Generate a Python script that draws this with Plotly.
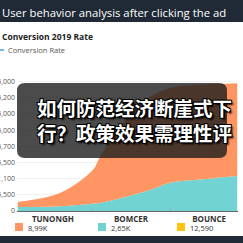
import plotly.graph_objects as go

# ---- data ----
categories = ["TUNONGH", "BOMCER", "BOUNCE"]
x_pos = [-0.45, 0.09, 0.51, 0.60, 0.79, 0.99, 1.24, 1.50, 1.88, 2.36]
teal_vals = [0.25, 0.30, 0.45, 0.50, 0.70, 0.95, 1.30, 1.75, 1.95, 2.17]
orange_vals = [0.31, 0.81, 2.08, 2.83, 3.99, 4.98, 5.74, 5.85, 5.85, 5.73]
y_tickvals = [0, 1, 2, 3, 4, 5, 6, 7, 8]
y_ticktext = ["0", "5,500", "1,100", "5,500", "5,700", "5,000", "5,000", "5,200", "5,000"]
legend_labels = ["8,99K", "2,65K", "12,590"]
legend_colors = ["#FF9562", "#72D4D2", "#FFC20E"]

title = "User behavior analysis after clicking the ad"
subtitle = "Conversion 2019 Rate"
sub_legend = "Conversion Rate"
overlay_lines = ["如何防范经济断崖式下", "行？政策效果需理性评"]

W, H = 243, 243
L, R, T, B = 17, 5, 80, 32
PW, PH = W - L - R, H - T - B


def px(x):
    return (x - L) / PW


def py(y):
    return (H - B - y) / PH


fig = go.Figure()
fig.add_trace(go.Scatter(x=x_pos, y=teal_vals, stackgroup="a", mode="none",
                         fillcolor=legend_colors[1], line_shape="spline",
                         showlegend=False, hoverinfo="skip"))
fig.add_trace(go.Scatter(x=x_pos, y=orange_vals, stackgroup="a", mode="none",
                         fillcolor=legend_colors[0], line_shape="spline",
                         showlegend=False, hoverinfo="skip"))

shapes = []
annotations = []
# header band
shapes.append(dict(type="rect", xref="paper", yref="paper", x0=px(0), x1=px(W), y0=py(0), y1=py(22),
                   fillcolor="#1F2A36", line_width=0, layer="above"))
# bottom band
shapes.append(dict(type="rect", xref="paper", yref="paper", x0=px(0), x1=px(W), y0=py(236), y1=py(243),
                   fillcolor="#1F2A36", line_width=0, layer="above"))
annotations.append(dict(text=title, xref="paper", yref="paper", x=px(0), y=py(12), xanchor="left",
                        yanchor="middle", showarrow=False,
                        font=dict(family="Open Sans", size=11.3, color="white")))
annotations.append(dict(text="<b>" + subtitle + "</b>", xref="paper", yref="paper", x=px(0), y=py(36),
                        xanchor="left", yanchor="middle", showarrow=False,
                        font=dict(family="Open Sans", size=8.5, color="#222")))
shapes.append(dict(type="line", xref="paper", yref="paper", x0=px(0), x1=px(4), y0=py(50), y1=py(50),
                   line=dict(color="#4AA3DF", width=1.5)))
annotations.append(dict(text=sub_legend, xref="paper", yref="paper", x=px(6), y=py(50),
                        xanchor="left", yanchor="middle", showarrow=False,
                        font=dict(family="Open Sans", size=7.5, color="#555")))

# legend
leg_x = [15, 98, 177]
for lx, lab, col in zip(leg_x, legend_labels, legend_colors):
    shapes.append(dict(type="rect", xref="paper", yref="paper", x0=px(lx), x1=px(lx + 8),
                       y0=py(231), y1=py(223), fillcolor=col, line_width=0))
    annotations.append(dict(text=lab, xref="paper", yref="paper", x=px(lx + 11), y=py(227.5),
                            xanchor="left", yanchor="middle", showarrow=False,
                            font=dict(family="Open Sans", size=7.5, color="#333")))

# overlay rounded box
x0, x1, y0, y1, r = 17, 227, 83, 158, 8
path = (f"M {px(x0 + r)},{py(y0)} L {px(x1 - r)},{py(y0)} Q {px(x1)},{py(y0)} {px(x1)},{py(y0 + r)} "
        f"L {px(x1)},{py(y1 - r)} Q {px(x1)},{py(y1)} {px(x1 - r)},{py(y1)} "
        f"L {px(x0 + r)},{py(y1)} Q {px(x0)},{py(y1)} {px(x0)},{py(y1 - r)} "
        f"L {px(x0)},{py(y0 + r)} Q {px(x0)},{py(y0)} {px(x0 + r)},{py(y0)} Z")
shapes.append(dict(type="path", xref="paper", yref="paper", path=path,
                   fillcolor="rgba(30,30,30,0.8)", line_width=0, layer="above"))
annotations.append(dict(text="<br>".join("<b>" + s + "</b>" for s in overlay_lines),
                        xref="paper", yref="paper", x=px(134), y=py(119.5),
                        xanchor="center", yanchor="middle", showarrow=False, align="left",
                        font=dict(family="Noto Sans CJK SC", size=19.5, color="white",
                                  shadow="-1px -1px 0 #000, 1px -1px 0 #000, -1px 1px 0 #000, 1px 1px 0 #000, 2px 2px 2px #000")))

fig.update_layout(
    width=W, height=H, margin=dict(l=L, r=R, t=T, b=B),
    paper_bgcolor="white", plot_bgcolor="white",
    shapes=shapes, annotations=annotations, showlegend=False,
    xaxis=dict(range=[-0.46, 2.37], tickvals=[0, 1, 2], ticktext=["<b>" + c + "</b>" for c in categories],
               showgrid=False, zeroline=False, showline=True, linecolor="#666", linewidth=1,
               ticks="", ticklabelstandoff=0, tickfont=dict(family="Open Sans", size=8, color="#333"),
               minor=dict(tickvals=[0.5, 1.5], ticks="inside", ticklen=3, tickcolor="#aaa", showgrid=False)),
    yaxis=dict(range=[0, 8.1], tickvals=y_tickvals, ticktext=y_ticktext, showgrid=True, gridcolor="#f0f0f0",
               zeroline=False, automargin=False,
               tickfont=dict(family="Open Sans", size=7, color="#555"), ticks="", ticklabelstandoff=1),
)

fig.write_html("out.html")
